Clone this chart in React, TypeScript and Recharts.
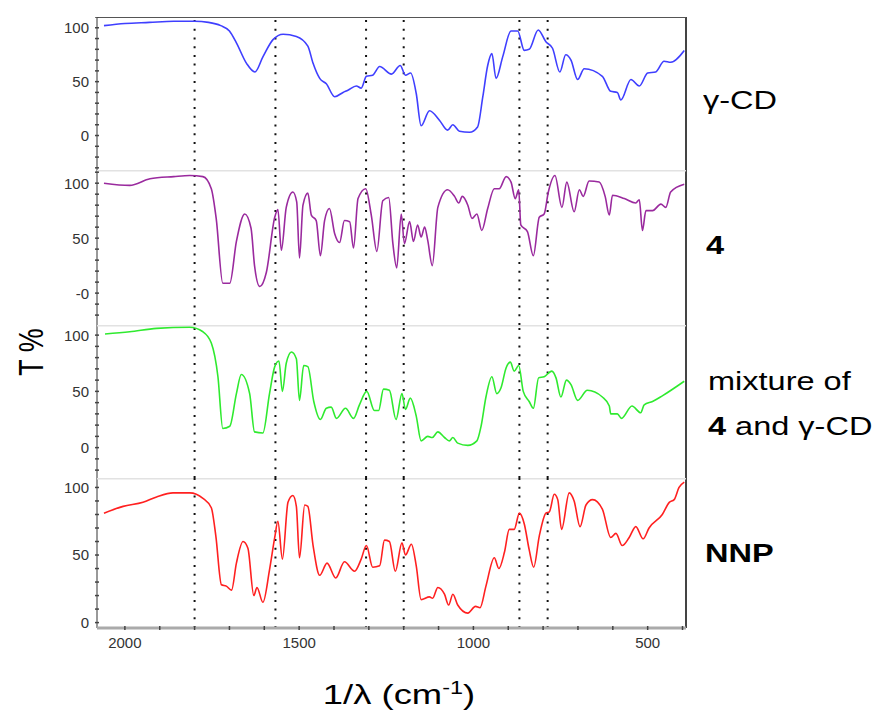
import React from "react";
import { LineChart, Line, XAxis, YAxis, ReferenceLine } from "recharts";

// wavenumber range (cm-1), drawn right-to-left
const X_MIN = 390;
const X_MAX = 2080;
const X_TICKS = [2000, 1900, 1800, 1700, 1600, 1500, 1400, 1300, 1200, 1100, 1000, 900, 800, 700, 600, 500, 400];
const PEAK_LINES = [1800, 1568, 1308, 1200, 868, 787];

// γ-CD
const GCD_WN = [2060, 2000, 1930, 1860, 1800, 1760, 1725, 1700, 1680, 1651, 1627, 1604, 1575, 1546, 1508, 1475, 1460, 1441, 1422, 1398, 1374, 1360, 1336, 1322, 1307, 1289, 1269, 1235, 1210, 1195, 1180, 1164, 1150, 1126, 1097, 1074, 1059, 1040, 1011, 988, 973, 959, 947, 935, 916, 892, 873, 854, 840, 814, 792, 773, 752, 735, 720, 701, 682, 630, 606, 587, 577, 548, 524, 500, 477, 453, 434, 395];
const GCD_T = [102, 104, 105, 106, 106, 105, 102, 97, 86, 67, 59, 73, 89, 94, 92, 83, 67, 53, 48, 36, 40, 42, 46, 44, 55, 56, 64, 57, 65, 56, 58, 39, 9, 23, 14, 5, 10, 4, 3, 8, 36, 65, 76, 53, 73, 97, 97, 79, 80, 98, 87, 81, 59, 75, 70, 52, 62, 55, 41, 40, 33, 52, 46, 58, 59, 69, 68, 79];

// compound 4
const C4_WN = [2060, 1986, 1928, 1860, 1814, 1776, 1752, 1738, 1719, 1699, 1680, 1656, 1638, 1628, 1613, 1594, 1570, 1561, 1551, 1537, 1518, 1507, 1499, 1489, 1475, 1465, 1451, 1439, 1427, 1413, 1398, 1384, 1370, 1355, 1344, 1331, 1309, 1293, 1277, 1260, 1243, 1231, 1220, 1207, 1198, 1183, 1172, 1160, 1150, 1140, 1131, 1118, 1102, 1074, 1054, 1042, 1032, 1016, 1004, 990, 976, 959, 940, 926, 906, 892, 880, 870, 864, 845, 828, 811, 797, 785, 766, 746, 732, 711, 696, 685, 668, 639, 622, 610, 601, 567, 534, 524, 515, 505, 486, 462, 448, 434, 395];
const C4_T = [100, 98, 104, 106, 107, 106, 95, 68, 9, 9, 47, 72, 59, 25, 6, 19, 69, 76, 39, 78, 92, 83, 32, 80, 91, 71, 66, 34, 66, 77, 54, 46, 66, 65, 41, 86, 95, 71, 38, 84, 87, 45, 23, 72, 45, 65, 47, 62, 51, 60, 48, 25, 78, 94, 88, 82, 88, 80, 68, 72, 57, 77, 95, 95, 106, 101, 86, 94, 62, 56, 34, 69, 72, 92, 107, 78, 101, 74, 94, 88, 102, 101, 88, 71, 89, 86, 82, 85, 57, 75, 75, 81, 78, 92, 99];

// mixture of 4 and γ-CD
const MIX_WN = [2057, 1986, 1909, 1814, 1776, 1752, 1733, 1719, 1699, 1680, 1666, 1642, 1628, 1604, 1585, 1570, 1558, 1548, 1537, 1522, 1508, 1499, 1487, 1475, 1458, 1439, 1422, 1408, 1393, 1367, 1344, 1327, 1306, 1284, 1272, 1258, 1241, 1222, 1205, 1195, 1181, 1164, 1150, 1131, 1118, 1102, 1083, 1069, 1059, 1045, 1016, 990, 978, 964, 947, 933, 921, 906, 894, 883, 870, 857, 840, 828, 813, 797, 775, 763, 749, 733, 720, 701, 673, 630, 610, 606, 587, 575, 545, 520, 510, 486, 458, 395];
const MIX_T = [101, 103, 106, 107, 103, 93, 63, 17, 19, 48, 65, 48, 14, 13, 48, 72, 77, 50, 75, 85, 79, 42, 73, 72, 41, 25, 35, 36, 26, 35, 26, 38, 50, 33, 33, 52, 51, 25, 48, 34, 44, 28, 6, 10, 9, 14, 9, 6, 9, 4, 2, 6, 19, 45, 63, 48, 53, 71, 76, 68, 73, 50, 41, 35, 62, 63, 68, 62, 45, 60, 56, 42, 51, 45, 37, 30, 30, 26, 37, 31, 38, 41, 46, 59];

// NNP
const NNP_WN = [2060, 2005, 1948, 1909, 1862, 1814, 1776, 1752, 1739, 1723, 1709, 1694, 1680, 1661, 1647, 1630, 1621, 1604, 1585, 1570, 1561, 1548, 1532, 1518, 1508, 1499, 1484, 1475, 1460, 1441, 1420, 1395, 1370, 1341, 1322, 1307, 1289, 1269, 1255, 1241, 1224, 1205, 1195, 1178, 1164, 1150, 1126, 1117, 1102, 1083, 1071, 1059, 1045, 1016, 994, 981, 964, 940, 927, 911, 897, 883, 868, 854, 840, 827, 811, 792, 782, 768, 758, 747, 725, 711, 694, 677, 658, 630, 606, 591, 573, 553, 534, 513, 496, 458, 438, 424, 410, 395];
const NNP_T = [81, 86, 89, 93, 96, 96, 92, 85, 64, 28, 27, 24, 44, 60, 55, 20, 26, 15, 39, 63, 75, 47, 89, 94, 86, 48, 87, 86, 57, 35, 44, 33, 45, 38, 47, 57, 41, 42, 61, 60, 38, 59, 50, 58, 42, 17, 19, 18, 26, 21, 13, 21, 13, 7, 12, 11, 27, 48, 40, 52, 69, 69, 81, 73, 54, 41, 64, 81, 82, 95, 91, 69, 96, 90, 71, 87, 91, 84, 63, 66, 57, 63, 71, 62, 70, 80, 89, 91, 100, 104];

const toRows = (wn: number[], t: number[]) => wn.map((w, i) => ({ wn: w, t: t[i] }));

const FONT = "'Liberation Sans', Arial, sans-serif";

// y tick: small mark on the axis, label only on 0 / 50 / 100
const YTick = ({ x, y, payload, minusZero }: any) => {
  const v = payload.value;
  const text = v === 0 ? (minusZero ? "-0" : "0") : v === 50 || v === 100 ? String(v) : "";
  return (
    <g>
      <line x1={x - 2} x2={x + 2} y1={y} y2={y} stroke="#444" strokeWidth={1.5} />
      {text && (
        <text x={x - 8} y={y} dy="0.36em" textAnchor="end" fontSize={15} fill="#333">
          {text}
        </text>
      )}
    </g>
  );
};

const XTick = ({ x, y, payload }: any) => {
  const v = payload.value;
  return (
    <g>
      <line x1={x} x2={x} y1={y - 2} y2={y + 2} stroke="#444" strokeWidth={1.5} />
      {v % 500 === 0 && (
        <text x={x} y={y + 20} textAnchor="middle" fontSize={15} fill="#333">
          {v}
        </text>
      )}
    </g>
  );
};

type PanelProps = {
  wn: number[];
  t: number[];
  color: string;
  top: number;
  height: number;
  domain: [number, number];
  yTicks: number[];
  minusZero?: boolean;
  frameTop?: boolean;
  showX?: boolean;
};

function Panel({ wn, t, color, top, height, domain, yTicks, minusZero, frameTop, showX }: PanelProps) {
  const data = toRows(wn, t);
  return (
    <div style={{ position: "absolute", left: 0, top }}>
      <LineChart
        width={700}
        height={height + (showX ? 40 : 0)}
        data={data}
        margin={{ top: 0, right: 14, bottom: 0, left: 0 }}
      >
        <XAxis
          dataKey="wn"
          type="number"
          domain={[X_MIN, X_MAX]}
          reversed
          allowDataOverflow
          ticks={X_TICKS}
          interval={0}
          hide={!showX}
          height={40}
          tickSize={0}
          tickMargin={0}
          tick={<XTick />}
          tickLine={false}
          axisLine={{ stroke: "#aaa", strokeWidth: 3 }}
        />
        <YAxis
          type="number"
          domain={domain}
          allowDataOverflow
          ticks={yTicks}
          interval={0}
          width={97}
          tickSize={0}
          tickMargin={0}
          tick={<YTick minusZero={minusZero} />}
          tickLine={false}
          axisLine={false}
        />
        {/* frame: left axis, right border, top border / separator */}
        <ReferenceLine x={X_MAX} stroke="#999" strokeWidth={2} />
        <ReferenceLine x={X_MIN} stroke="#444" strokeWidth={2} />
        <ReferenceLine
          y={domain[1]}
          stroke={frameTop ? "#555" : "#e2e2e2"}
          strokeWidth={frameTop ? 2 : 3}
        />
        {PEAK_LINES.map((v) => (
          <ReferenceLine key={v} x={v} stroke="#111" strokeWidth={2} strokeDasharray="2 6.7" />
        ))}
        <Line
          dataKey="t"
          type="monotone"
          stroke={color}
          strokeWidth={1.6}
          dot={false}
          isAnimationActive={false}
        />
      </LineChart>
    </div>
  );
}

// side labels are a little wider than plain Arial in the original figure
const label = (left: number, midY: number): React.CSSProperties => ({
  position: "absolute",
  left,
  top: midY - 13,
  fontFamily: FONT,
  fontSize: 26,
  lineHeight: 1,
  color: "#000",
  whiteSpace: "nowrap",
  transform: "scaleX(1.25)",
  transformOrigin: "0 50%",
});

export default function App() {
  return (
    <div style={{ position: "absolute", left: 0, top: 0, width: 881, height: 718, background: "#fff", fontFamily: FONT }}>
      <Panel wn={GCD_WN} t={GCD_T} color="#3f3fff" top={17} height={153} domain={[-32, 110]}
        yTicks={[-30, -20, -10, 0, 10, 20, 30, 40, 50, 60, 70, 80, 90, 100, 110]} frameTop />
      <Panel wn={C4_WN} t={C4_T} color="#9a2a9e" top={170} height={155} domain={[-29, 112]}
        yTicks={[-20, -10, 0, 10, 20, 30, 40, 50, 60, 70, 80, 90, 100, 110]} minusZero />
      <Panel wn={MIX_WN} t={MIX_T} color="#2fea2f" top={325} height={153} domain={[-27, 109]}
        yTicks={[-20, -10, 0, 10, 20, 30, 40, 50, 60, 70, 80, 90, 100]} />
      <Panel wn={NNP_WN} t={NNP_T} color="#ff2020" top={478} height={150} domain={[-4, 107]}
        yTicks={[0, 10, 20, 30, 40, 50, 60, 70, 80, 90, 100]} showX />

      <div style={label(703, 100)}>γ-CD</div>
      <div style={{ ...label(706, 245), fontWeight: "bold" }}>4</div>
      <div style={label(708, 381)}>mixture of</div>
      <div style={label(708, 426)}>
        <b>4</b> and γ-CD
      </div>
      <div style={{ ...label(705, 553), fontWeight: "bold" }}>NNP</div>

      <div
        style={{
          position: "absolute", left: 32, top: 352,
          transform: "translate(-50%, -50%) rotate(-90deg) scaleY(1.3)",
          fontFamily: FONT, fontSize: 27, lineHeight: 1, whiteSpace: "nowrap",
        }}
      >
        T %
      </div>
      <div
        style={{
          position: "absolute", left: 399, top: 694,
          transform: "translate(-50%, -50%) scaleX(1.3)",
          fontFamily: FONT, fontSize: 28, lineHeight: 1, whiteSpace: "nowrap",
        }}
      >
        1/λ (cm<sup style={{ fontSize: 18 }}>-1</sup>)
      </div>
    </div>
  );
}
